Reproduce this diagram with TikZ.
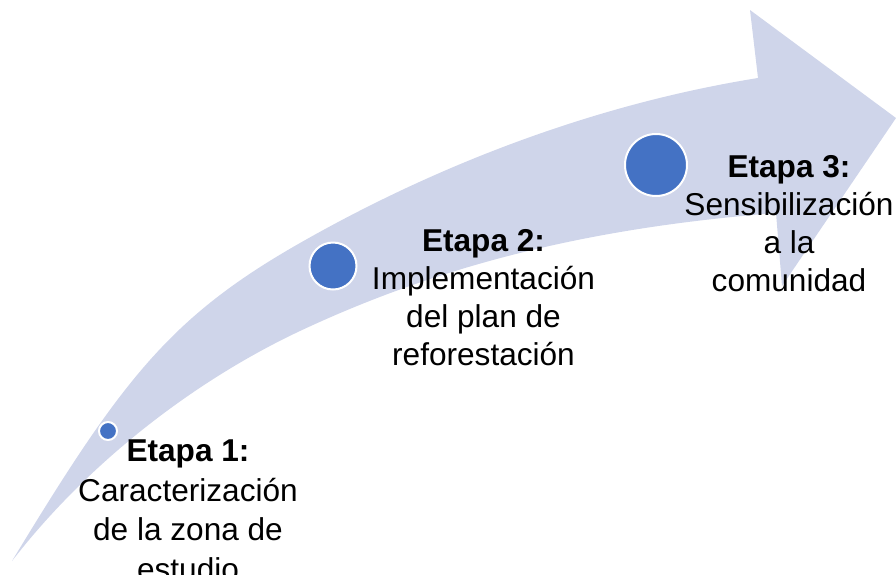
\documentclass[tikz,border=0pt]{standalone}
\usepackage{fontspec}
\setmainfont{Liberation Sans}
\definecolor{arrowfill}{HTML}{CFD5EA}
\definecolor{dotblue}{HTML}{4472C4}
\begin{document}
\begin{tikzpicture}[x=1pt,y=-1pt,
  stage/.style={circle, fill=dotblue, draw=white, line width=2pt, inner sep=0pt},
  lbl/.style={align=center, font=\fontsize{31.6}{38}\selectfont, inner sep=0pt, anchor=base}]
\useasboundingbox (0,0) rectangle (896,574);
\clip (0,0) rectangle (896,574);
% curved arrow
\fill[arrowfill] (12,561) .. controls (122,379.5) and (170,317) .. (300,243)
  .. controls (450,157.5) and (608,102) .. (758,78)
  -- (750,10) -- (896,118) -- (782,286) -- (776,213)
  .. controls (616,225.8) and (460,255.8) .. (300,331)
  .. controls (200,378) and (92,457.8) .. (12,561) -- cycle;
% stage dots
\node[stage, minimum size=18pt] (d1) at (108,431) {};
\node[stage, minimum size=47pt] (d2) at (333,266) {};
\node[stage, minimum size=62pt] (d3) at (656,165) {};
% labels
\node[lbl, font=\fontsize{31.6}{39.5}\selectfont] (t1) at (188,580) {\textbf{Etapa 1:}\\Caracterización\\de la zona de\\estudio};
\node[lbl] (t2) at (483.5,365) {\textbf{Etapa 2:}\\Implementación\\del plan de\\reforestación};
\node[lbl] (t3) at (789,291) {\textbf{Etapa 3:}\\Sensibilización\\a la\\comunidad};
\end{tikzpicture}
\end{document}
